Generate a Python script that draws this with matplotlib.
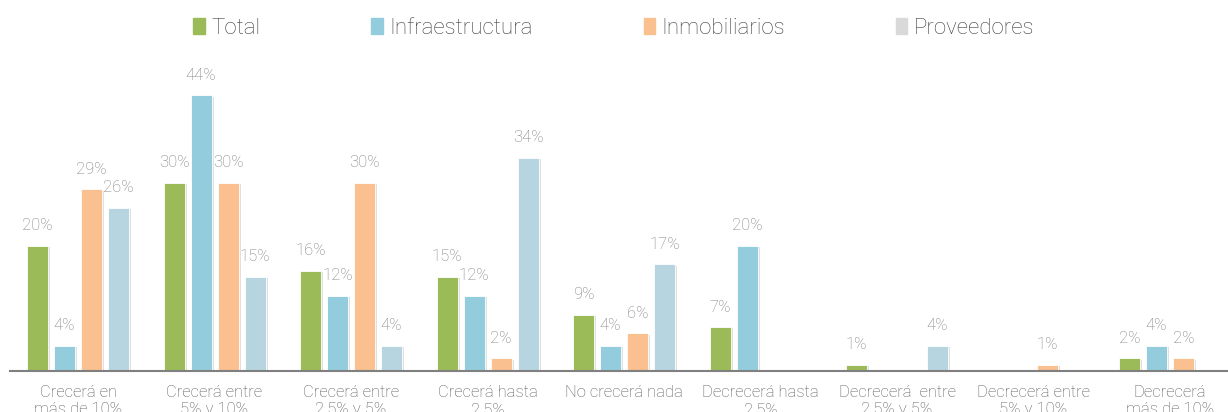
import matplotlib
matplotlib.use("Agg")
import matplotlib.pyplot as plt
import matplotlib.patheffects as pe
import numpy as np

plt.rcParams['font.family'] = ['Roboto', 'DejaVu Sans']

categories = [
    "Crecerá en\nmás de 10%",
    "Crecerá entre\n5% y 10%",
    "Crecerá entre\n2,5% y 5%",
    "Crecerá hasta\n2,5%",
    "No crecerá nada",
    "Decrecerá hasta\n2,5%",
    "Decrecerá  entre\n2,5% y 5%",
    "Decrecerá entre\n5% y 10%",
    "Decrecerá\nmás de 10%",
]
total = [20, 30, 16, 15, 9, 7, 1, 0, 2]
infraestructura = [4, 44, 12, 12, 4, 20, 0, 0, 4]
inmobiliarios = [29, 30, 30, 2, 6, 0, 0, 1, 2]
proveedores = [26, 15, 4, 34, 17, 0, 4, 0, 0]

series = [
    ("Total", total, "#9BBB59", "#9BBB59"),
    ("Infraestructura", infraestructura, "#93CDDD", "#93CDDD"),
    ("Inmobiliarios", inmobiliarios, "#FAC090", "#FAC090"),
    ("Proveedores", proveedores, "#B7D5E0", "#D9D9D9"),
]

W, H = 1228, 412
fig = plt.figure(figsize=(W / 100, H / 100), dpi=100)
ax = fig.add_axes([9.75 / W, 41 / H, 1228.5 / W, 313.5 / H])

x = np.arange(len(categories))
bw = 21 / 136.5
pitch = 27 / 136.5
shadow = [pe.SimplePatchShadow(offset=(1.5, -1), shadow_rgbFace="#999999", alpha=0.3), pe.Normal()]

for k, (name, vals, color, _) in enumerate(series):
    pos = x + (k - 1.5) * pitch
    bars = ax.bar(pos, vals, width=bw, color=color, edgecolor="white", linewidth=0.6, zorder=2)
    for b, v in zip(bars, vals):
        b.set_path_effects(shadow)
        if v > 0:
            ax.annotate(f"{v}%", (b.get_x() + b.get_width() / 2, v),
                        xytext=(0, 9), textcoords="offset points",
                        ha="center", va="bottom", fontsize=12, color="#7F7F7F",
                        fontweight="light")

ax.set_xlim(-0.5, len(categories) - 0.5)
ax.set_ylim(0, 50)
for s in ["top", "right", "left"]:
    ax.spines[s].set_visible(False)
ax.spines["bottom"].set_color("#808080")
ax.spines["bottom"].set_linewidth(1.5)
ax.set_yticks([])
ax.set_xticks(x)
ax.set_xticklabels(categories, fontsize=12, color="#595959", linespacing=1.2, fontweight="light")
ax.tick_params(axis="x", length=0, pad=10)

# legend
handles = [plt.Rectangle((0, 0), 1, 1, color=lc) for _, _, _, lc in series]
leg = fig.legend(handles, [s[0] for s in series], loc="center", bbox_to_anchor=(0.5, 1 - 28 / H),
                 ncol=4, frameon=False, fontsize=16, handlelength=0.5, handleheight=0.7,
                 handletextpad=0.3, columnspacing=5.0)
for t in leg.get_texts():
    t.set_color("#404040")
    t.set_fontweight("light")

fig.savefig("out.png", dpi=100)
